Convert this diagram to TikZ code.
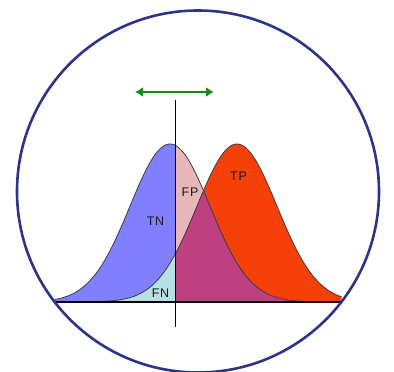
\documentclass[tikz,border=0pt]{standalone}
\usepackage{fontspec}
\setmainfont{Liberation Sans}[LetterSpace=6]
\usetikzlibrary{arrows.meta}
\definecolor{ringblue}{RGB}{43,52,135}
\definecolor{tnblue}{RGB}{128,128,255}
\definecolor{fppink}{RGB}{232,184,184}
\definecolor{tpred}{RGB}{245,64,8}
\definecolor{overlapmag}{RGB}{190,64,128}
\definecolor{fncyan}{RGB}{182,224,226}
\definecolor{arrowgreen}{RGB}{22,140,22}
\definecolor{curveline}{RGB}{60,60,70}
\tikzset{
  lbl/.style={font=\fontsize{12.5}{12.5}\selectfont, text=black!90, inner sep=0pt},
  curve/.style={draw=curveline, line width=0.8pt},
}
\begin{document}
\begin{tikzpicture}[x=1pt,y=-1pt]
\useasboundingbox (0,0) rectangle (394,372);
% regions
\fill[tnblue] plot[domain=54.8:175,samples=80,smooth] (\x,{302-158*exp(-0.5*((\x-170)/40)^2)}) -- (175,302) -- (54.8,302) -- cycle;
\fill[fppink] plot[domain=175:341.6,samples=80,smooth] (\x,{302-158*exp(-0.5*((\x-170)/40)^2)}) -- (341.6,302) -- (175,302) -- cycle;
\fill[tpred] plot[domain=175:341.6,samples=80,smooth] (\x,{302-158*exp(-0.5*((\x-237)/40)^2)}) -- (341.6,302) -- (175,302) -- cycle;
\fill[overlapmag] plot[domain=175:203.5,samples=30,smooth] (\x,{302-158*exp(-0.5*((\x-237)/40)^2)}) -- plot[domain=203.5:341.6,samples=80,smooth] (\x,{302-158*exp(-0.5*((\x-170)/40)^2)}) -- (341.6,302) -- (175,302) -- cycle;
\fill[fncyan] plot[domain=54.8:175,samples=80,smooth] (\x,{302-158*exp(-0.5*((\x-237)/40)^2)}) -- (175,302) -- (54.8,302) -- cycle;
% outlines
\draw[curve] plot[domain=54.8:341.6,samples=120,smooth] (\x,{302-158*exp(-0.5*((\x-170)/40)^2)});
\draw[curve] plot[domain=54.8:341.6,samples=120,smooth] (\x,{302-158*exp(-0.5*((\x-237)/40)^2)});
% baseline and threshold
\coordinate (bl) at (54.8,302);
\coordinate (br) at (341.6,302);
\draw[black, line width=1.4pt] (bl) -- (br);
\coordinate (vt) at (175,100);
\coordinate (vb) at (175,327);
\draw[black, line width=1pt] (vt) -- (vb);
% arrow
\coordinate (al) at (135,92);
\coordinate (ar) at (214,92);
\draw[arrowgreen, line width=1.7pt, {Latex[length=8pt,width=10pt]}-{Latex[length=8pt,width=10pt]}] (al) -- (ar);
% labels
\node[lbl] (tn) at (155.5,221) {TN};
\node[lbl] (fp) at (190,192) {FP};
\node[lbl] (tp) at (238.5,176) {TP};
\node[lbl] (fn) at (160.5,293) {FN};
% ring
\node[draw=ringblue, line width=2.6pt, circle, minimum size=362pt, inner sep=0pt] (ring) at (198,191.5) {};
\end{tikzpicture}
\end{document}
